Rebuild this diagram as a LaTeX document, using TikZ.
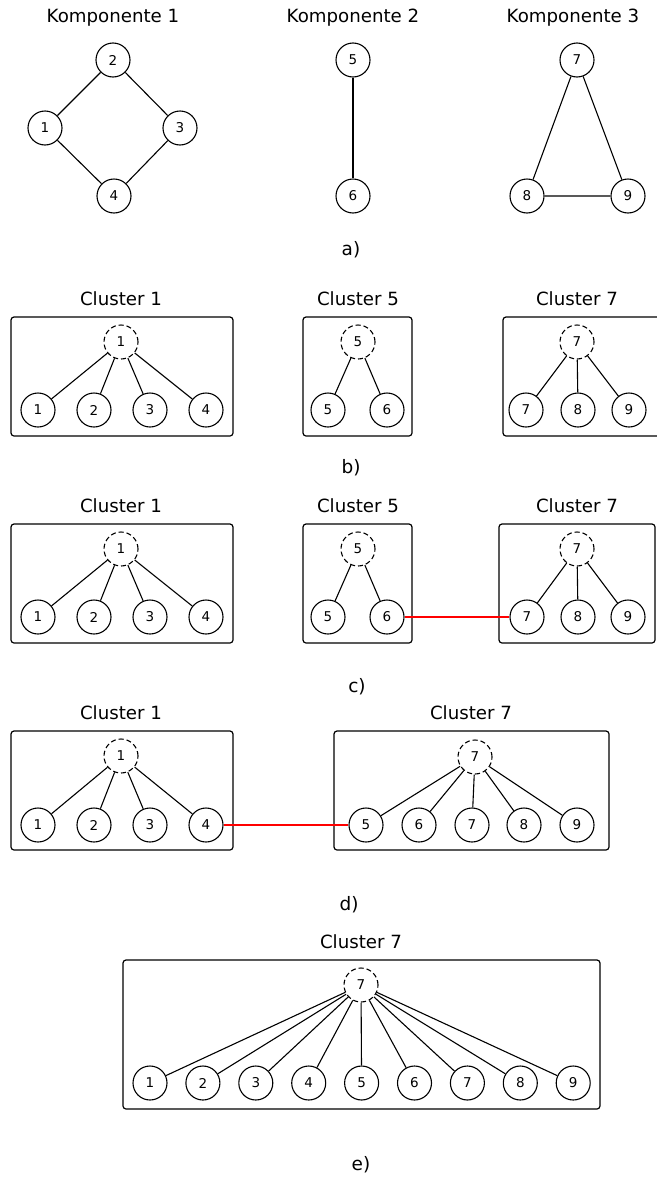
\documentclass[tikz,border=0pt]{standalone}
\usepackage{fontspec}
\setmainfont{DejaVu Sans}
\begin{document}
\begin{tikzpicture}[x=1pt,y=-1pt,
  vert/.style={circle,draw,line width=1.1pt,minimum size=34pt,inner sep=0pt,font=\fontsize{13.5}{15}\selectfont},
  rep/.style={vert,dash pattern=on 5pt off 3pt},
  edge/.style={line width=1.1pt},
  redlink/.style={line width=1.3pt,draw=red},
  clbox/.style={draw,line width=1.2pt,rounded corners=3pt},
  ttl/.style={font=\fontsize{18.2}{20}\selectfont,inner sep=0pt},
  lbl/.style={font=\fontsize{18.5}{20}\selectfont,inner sep=0pt}]
\useasboundingbox (0,0) rectangle (656,1178);

% ---- a) connected components
\node[ttl] (tA1) at (113,18) {Komponente 1};
\node[ttl] (tA2) at (353,18) {Komponente 2};
\node[ttl] (tA3) at (573,18) {Komponente 3};
\node[vert] (a2) at (113,60) {2};
\node[vert] (a1) at (45,128) {1};
\node[vert] (a3) at (180,128) {3};
\node[vert] (a4) at (114,196) {4};
\draw[edge] (a1)--(a2) (a2)--(a3) (a3)--(a4) (a4)--(a1);
\node[vert] (a5) at (353,60) {5};
\node[vert] (a6) at (353,196) {6};
\draw[edge] (a5)--(a6);
\node[vert] (a7) at (577,60) {7};
\node[vert] (a8) at (527,196) {8};
\node[vert] (a9) at (628,196) {9};
\draw[edge] (a7)--(a8) (a7)--(a9) (a8)--(a9);
\node[lbl] (la) at (351,250) {a)};

% ---- b) initial clusters
\node[ttl] (tB1) at (121,299) {Cluster 1};
\node[ttl] (tB5) at (358,299) {Cluster 5};
\node[ttl] (tB7) at (577,299) {Cluster 7};
\draw[clbox] (11,317) rectangle (233,436);
\draw[clbox] (303,317) rectangle (412,436);
\draw[clbox] (503,317) rectangle (660,436);
\node[rep] (b1r) at (121,342) {1};
\foreach \n/\x in {1/38,2/94,3/150,4/206}{
  \node[vert] (b\n) at (\x,410) {\n};
  \draw[edge] (b1r)--(b\n);
}
\node[rep] (b5r) at (358,342) {5};
\node[vert] (b5) at (328,410) {5};
\node[vert] (b6) at (387,410) {6};
\draw[edge] (b5r)--(b5) (b5r)--(b6);
\node[rep] (b7r) at (577,342) {7};
\foreach \n/\x in {7/526,8/578,9/629}{
  \node[vert] (b\n) at (\x,410) {\n};
  \draw[edge] (b7r)--(b\n);
}
\node[lbl] (lb) at (351,468) {b)};

% ---- c) clusters 5 and 7 get linked
\node[ttl] (tC1) at (121,506) {Cluster 1};
\node[ttl] (tC5) at (358,506) {Cluster 5};
\node[ttl] (tC7) at (577,506) {Cluster 7};
\draw[clbox] (11,524) rectangle (233,643);
\draw[clbox] (303,524) rectangle (412,643);
\draw[clbox] (499,524) rectangle (655,643);
\node[rep] (c1r) at (121,549) {1};
\foreach \n/\x in {1/38,2/94,3/150,4/206}{
  \node[vert] (c\n) at (\x,617) {\n};
  \draw[edge] (c1r)--(c\n);
}
\node[rep] (c5r) at (358,549) {5};
\node[vert] (c5) at (328,617) {5};
\node[vert] (c6) at (387,617) {6};
\draw[edge] (c5r)--(c5) (c5r)--(c6);
\node[rep] (c7r) at (577,549) {7};
\foreach \n/\x in {7/527,8/578,9/628}{
  \node[vert] (c\n) at (\x,617) {\n};
  \draw[edge] (c7r)--(c\n);
}
\draw[redlink] (c6)--(c7);
\node[lbl] (lc) at (357,687) {c)};

% ---- d) clusters 1 and 7 get linked
\node[ttl] (tD1) at (121,713) {Cluster 1};
\node[ttl] (tD7) at (471,713) {Cluster 7};
\draw[clbox] (11,731) rectangle (233,850);
\draw[clbox] (334,731) rectangle (609,850);
\node[rep] (d1r) at (121,756) {1};
\foreach \n/\x in {1/38,2/94,3/150,4/206}{
  \node[vert] (d\n) at (\x,825) {\n};
  \draw[edge] (d1r)--(d\n);
}
\node[rep] (d7r) at (475,757) {7};
\foreach \n/\x in {5/366,6/419,7/472,8/524,9/577}{
  \node[vert] (d\n) at (\x,825) {\n};
  \draw[edge] (d7r)--(d\n);
}
\draw[redlink] (d4)--(d5);
\node[lbl] (ld) at (349,905) {d)};

% ---- e) one cluster
\node[ttl] (tE7) at (361,942) {Cluster 7};
\draw[clbox] (123,960) rectangle (600,1109);
\node[rep] (e7r) at (361,985) {7};
\foreach \n in {1,...,9}{
  \node[vert] (e\n) at ({150+52.9*(\n-1)},1083) {\n};
  \draw[edge] (e7r)--(e\n);
}
\node[lbl] (le) at (361,1165) {e)};
\end{tikzpicture}
\end{document}
